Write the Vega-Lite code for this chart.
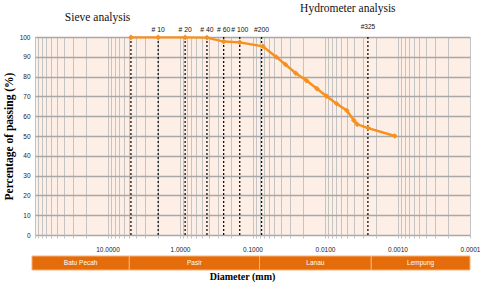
{
  "$schema": "https://vega.github.io/schema/vega-lite/v6.json",
  "padding": {"left": 3, "top": 2, "right": 4, "bottom": 2},
  "background": "white",
  "spacing": 2,
  "config": {
    "font": "Liberation Sans",
    "axis": {"labelFont": "Liberation Sans", "titleFont": "Liberation Serif", "titleFontWeight": "bold", "titleColor": "#000"}
  },
  "vconcat": [
    {
      "width": 435,
      "height": 198,
      "view": {"fill": "#FDEEE6", "stroke": null},
      "resolve": {"axis": {"x": "independent", "y": "independent"}},
      "layer": [
        {
          "data": {"values": [
            {"d": 4.75, "p": 99.8}, {"d": 2.0, "p": 99.8}, {"d": 0.85, "p": 99.8}, {"d": 0.425, "p": 99.7},
            {"d": 0.25, "p": 97.7}, {"d": 0.15, "p": 97.3}, {"d": 0.072, "p": 95.3}, {"d": 0.047, "p": 89.9},
            {"d": 0.0351, "p": 86.1}, {"d": 0.0253, "p": 81.7}, {"d": 0.018, "p": 78.0}, {"d": 0.0129, "p": 73.9},
            {"d": 0.0095, "p": 70.1}, {"d": 0.0069, "p": 66.3}, {"d": 0.005, "p": 62.9}, {"d": 0.004, "p": 57.9},
            {"d": 0.0036, "p": 55.9}, {"d": 0.00254, "p": 54.0}, {"d": 0.00109, "p": 50.0}
          ]},
          "mark": {"type": "line", "opacity": 0},
          "encoding": {
            "x": {
              "field": "d", "type": "quantitative", "title": null,
              "scale": {"type": "log", "domain": [0.0001, 100], "reverse": true, "nice": false},
              "axis": {
                "values": [0.0001,0.0002,0.0003,0.0004,0.0005,0.0006,0.0007,0.0008,0.0009,0.001,0.002,0.003,0.004,0.005,0.006,0.007,0.008,0.009,0.01,0.02,0.03,0.04,0.05,0.06,0.07,0.08,0.09,0.1,0.2,0.3,0.4,0.5,0.6,0.7,0.8,0.9,1,2,3,4,5,6,7,8,9,10,20,30,40,50,60,70,80,90,100],
                "labelExpr": "indexof([10,1,0.1,0.01,0.001,0.0001], datum.value) >= 0 ? format(datum.value, '.4f') : ''",
                "labelOverlap": false, "labelBound": false, "labelFlush": false,
                "grid": true, "gridColor": "#c4c4c4", "gridWidth": 1,
                "ticks": true, "tickColor": "#c4c4c4", "tickSize": 3,
                "domain": false,
                "labelFontSize": 6.5, "labelColor": "#222", "labelPadding": 8
              }
            },
            "y": {
              "field": "p", "type": "quantitative", "title": "Percentage of passing (%)",
              "scale": {"domain": [0, 100], "nice": false, "zero": true},
              "axis": {
                "values": [0,10,20,30,40,50,60,70,80,90,100],
                "labelOverlap": false,
                "grid": true, "gridColor": "#a8a8a8", "gridWidth": 1.3,
                "ticks": false, "domain": false,
                "labelFontSize": 6.5, "labelColor": "#222", "labelPadding": 5,
                "titleFontSize": 11.5, "titlePadding": 5
              }
            }
          }
        },
        {
          "data": {"values": [
            {"d": 4.75, "label": ""},
            {"d": 2.0, "label": "# 10"},
            {"d": 0.85, "label": "# 20"},
            {"d": 0.425, "label": "# 40"},
            {"d": 0.25, "label": "# 60"},
            {"d": 0.15, "label": "# 100"},
            {"d": 0.075, "label": "#200"},
            {"d": 0.00256, "label": "#325"}
          ]},
          "mark": {"type": "rule", "color": "#111", "strokeDash": [2, 2], "strokeWidth": 1.3},
          "encoding": {
            "x": {"field": "d", "type": "quantitative", "axis": null},
            "y": {"datum": 0, "type": "quantitative", "axis": null},
            "y2": {"datum": 100}
          }
        },
        {
          "data": {"values": [
            {"d": 2.0, "label": "# 10"},
            {"d": 0.85, "label": "# 20"},
            {"d": 0.425, "label": "# 40"},
            {"d": 0.25, "label": "# 60"},
            {"d": 0.15, "label": "# 100"},
            {"d": 0.075, "label": "#200"}
          ]},
          "mark": {"type": "text", "fontSize": 6.8, "color": "#111", "dy": -7, "baseline": "middle"},
          "encoding": {
            "x": {"field": "d", "type": "quantitative", "axis": null},
            "y": {"datum": 100, "type": "quantitative", "axis": null},
            "text": {"field": "label"}
          }
        },
        {
          "data": {"values": [{"d": 0.00256, "label": "#325"}]},
          "mark": {"type": "text", "fontSize": 6.5, "color": "#111", "dy": -10, "baseline": "middle"},
          "encoding": {
            "x": {"field": "d", "type": "quantitative", "axis": null},
            "y": {"datum": 100, "type": "quantitative", "axis": null},
            "text": {"field": "label"}
          }
        },
        {
          "data": {"values": [
            {"d": 4.75, "p": 99.8}, {"d": 2.0, "p": 99.8}, {"d": 0.85, "p": 99.8}, {"d": 0.425, "p": 99.7},
            {"d": 0.25, "p": 97.7}, {"d": 0.15, "p": 97.3}, {"d": 0.072, "p": 95.3}, {"d": 0.047, "p": 89.9},
            {"d": 0.0351, "p": 86.1}, {"d": 0.0253, "p": 81.7}, {"d": 0.018, "p": 78.0}, {"d": 0.0129, "p": 73.9},
            {"d": 0.0095, "p": 70.1}, {"d": 0.0069, "p": 66.3}, {"d": 0.005, "p": 62.9}, {"d": 0.004, "p": 57.9},
            {"d": 0.0036, "p": 55.9}, {"d": 0.00254, "p": 54.0}, {"d": 0.00109, "p": 50.0}
          ]},
          "mark": {"type": "line", "color": "#F7901E", "strokeWidth": 2.4,
                   "point": {"shape": "diamond", "size": 32, "filled": true, "color": "#F7901E"}},
          "encoding": {
            "x": {"field": "d", "type": "quantitative", "axis": null},
            "y": {"field": "p", "type": "quantitative", "axis": null}
          }
        },
        {
          "data": {"values": [
            {"d": 13.7, "p": 109.8, "t": "Sieve analysis"},
            {"d": 0.00484, "p": 114.3, "t": "Hydrometer analysis"}
          ]},
          "mark": {"type": "text", "font": "Liberation Serif", "fontSize": 11.5, "color": "#111", "baseline": "middle"},
          "encoding": {
            "x": {"field": "d", "type": "quantitative", "axis": null},
            "y": {"field": "p", "type": "quantitative", "axis": null},
            "text": {"field": "t"}
          }
        },
        {
          "mark": {"type": "rule", "color": "#444", "strokeWidth": 1},
          "encoding": {
            "x": {"datum": 0.167, "type": "quantitative", "axis": null},
            "x2": {"datum": 0.0316},
            "y": {"datum": 109.6, "type": "quantitative", "axis": null}
          }
        },
        {
          "mark": {"type": "rule", "color": "#444", "strokeWidth": 1},
          "encoding": {
            "x": {"datum": 0.075, "type": "quantitative", "axis": null},
            "y": {"datum": 107.3, "type": "quantitative", "axis": null},
            "y2": {"datum": 111.0}
          }
        },
        {
          "mark": {"type": "point", "shape": "M1.2,-1L0,0L1.2,1", "size": 30, "filled": false, "color": "#444", "strokeWidth": 1, "opacity": 1},
          "encoding": {
            "x": {"datum": 0.167, "type": "quantitative", "axis": null},
            "y": {"datum": 109.6, "type": "quantitative", "axis": null}
          }
        },
        {
          "mark": {"type": "point", "shape": "M-1.2,-1L0,0L-1.2,1", "size": 30, "filled": false, "color": "#444", "strokeWidth": 1, "opacity": 1},
          "encoding": {
            "x": {"datum": 0.0316, "type": "quantitative", "axis": null},
            "y": {"datum": 109.6, "type": "quantitative", "axis": null}
          }
        }
      ]
    },
    {
      "width": 435,
      "height": 14,
      "view": {"stroke": null},
      "data": {"values": [
        {"from": 110, "to": 5, "zone": "Batu Pecah"},
        {"from": 5, "to": 0.08, "zone": "Pasir"},
        {"from": 0.08, "to": 0.0023, "zone": "Lanau"},
        {"from": 0.0023, "to": 0.0001, "zone": "Lempung"}
      ]},
      "transform": [{"calculate": "sqrt(datum.from * datum.to)", "as": "mid"}],
      "resolve": {"axis": {"x": "independent"}},
      "layer": [
        {
          "mark": {"type": "rect", "color": "#E46C0A", "stroke": "#F8B27A", "strokeWidth": 1},
          "encoding": {
            "x": {
              "field": "from", "type": "quantitative", "title": "Diameter (mm)",
              "scale": {"type": "log", "domain": [0.0001, 100], "reverse": true, "nice": false},
              "axis": {"labels": false, "ticks": false, "domain": false, "grid": false, "titleFontSize": 10, "titlePadding": 1, "titleX": 207}
            },
            "x2": {"field": "to"}
          }
        },
        {
          "mark": {"type": "text", "color": "white", "fontSize": 6.5, "baseline": "middle"},
          "encoding": {
            "x": {"field": "mid", "type": "quantitative", "axis": null},
            "text": {"field": "zone"}
          }
        }
      ]
    }
  ]
}
